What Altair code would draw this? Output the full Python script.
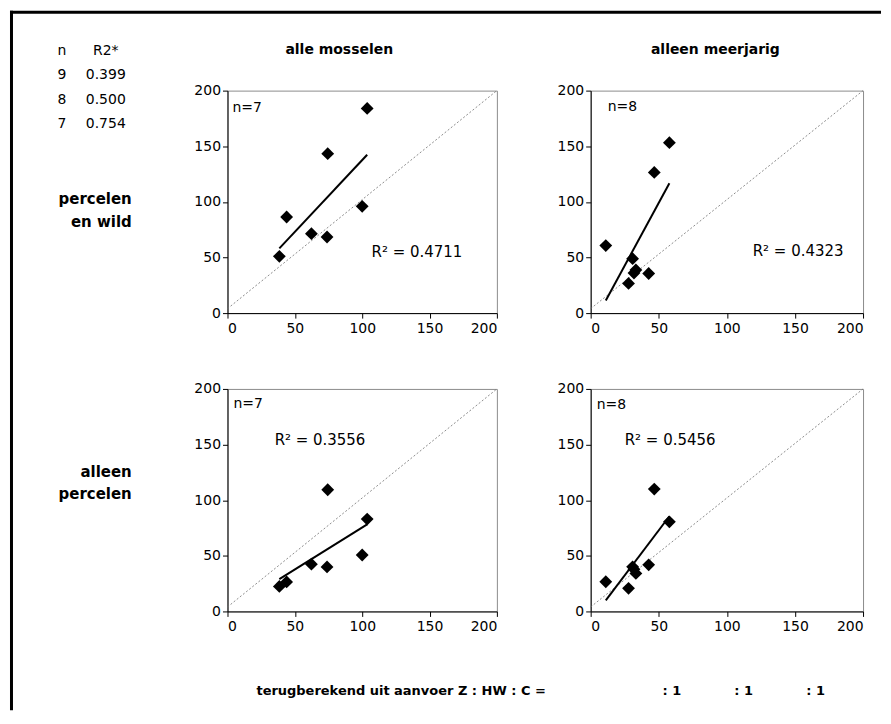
import altair as alt
import pandas as pd

# ---- data ----
x_all = [38.5, 43.9, 62.3, 73.9, 74.4, 100.0, 103.7]
y_all_pw = [51.0, 86.4, 71.4, 68.4, 143.3, 96.0, 184.0]
y_all_p = [22.5, 26.5, 42.5, 40.0, 109.4, 50.7, 83.0]
x_mj = [11.1, 27.8, 30.8, 31.8, 33.2, 42.6, 46.7, 57.8]
y_mj_pw = [60.7, 26.7, 48.9, 36.0, 38.8, 35.6, 126.5, 153.2]
y_mj_p = [26.7, 20.8, 40.1, 38.0, 34.2, 41.9, 110.0, 80.5]

r2_labels = ["R\u00b2 = 0.4711", "R\u00b2 = 0.4323", "R\u00b2 = 0.3556", "R\u00b2 = 0.5456"]
n_labels = ["n=7", "n=8", "n=7", "n=8"]
col_titles = ["alle mosselen", "alleen meerjarig"]
row_titles = [["percelen", "en wild"], ["alleen", "percelen"]]
table_n = ["n", "9", "8", "7"]
table_r2 = ["R2*", "0.399", "0.500", "0.754"]
ticks = [0, 50, 100, 150, 200]
diag_x = [0, 200]
diag_y = [4, 200]
footer = "terugberekend uit aanvoer Z : HW : C ="
ratio_labels = [": 1", ": 1", ": 1"]

FONT = "DejaVu Sans"


def deco_text(txt, px, py, size=14, bold=False, align="left"):
    return alt.Chart(pd.DataFrame({"t": [txt]})).mark_text(
        align=align, baseline="alphabetic", font=FONT, fontSize=size,
        fontWeight="bold" if bold else "normal", color="black"
    ).encode(x=alt.value(px), y=alt.value(py), text="t:N")


def panel(xs, ys, n_label, n_pos, r2_label, r2_pos, w, h, extras):
    df = pd.DataFrame({"x": xs, "y": ys})
    xsc = alt.Scale(domain=[0, 200], nice=False, zero=True)
    ysc = alt.Scale(domain=[0, 200], nice=False, zero=True)
    xax = alt.Axis(values=ticks, title=None, grid=False, labelPadding=3)
    yax = alt.Axis(values=ticks, title=None, grid=False, labelPadding=2)
    X = alt.X("x:Q", scale=xsc, axis=xax)
    Y = alt.Y("y:Q", scale=ysc, axis=yax)
    diag = alt.Chart(pd.DataFrame({"x": diag_x, "y": diag_y})).mark_line(
        color="#707070", strokeWidth=0.8, strokeDash=[2, 2]
    ).encode(x=X, y=Y)
    pts = alt.Chart(df).mark_point(
        shape="diamond", filled=True, size=165, color="black", opacity=1
    ).encode(x=X, y=Y)
    reg = alt.Chart(df).transform_regression("x", "y").mark_line(
        color="black", strokeWidth=2
    ).encode(x=X, y=Y)
    ntxt = alt.Chart(pd.DataFrame({"x": [n_pos[0]], "y": [n_pos[1]], "t": [n_label]})).mark_text(
        align="left", baseline="alphabetic", font=FONT, fontSize=14, color="black"
    ).encode(x=X, y=Y, text="t:N")
    rtxt = alt.Chart(pd.DataFrame({"x": [r2_pos[0]], "y": [r2_pos[1]], "t": [r2_label]})).mark_text(
        align="left", baseline="alphabetic", font=FONT, fontSize=15, color="black"
    ).encode(x=X, y=Y, text="t:N")
    return alt.layer(diag, pts, reg, ntxt, rtxt, *extras).properties(width=w, height=h)


# decorations for the top-left panel (pixel offsets relative to its plot area)
tl_extras = [
    alt.Chart(pd.DataFrame({"a": [0]})).mark_rule(color="black", strokeWidth=3).encode(
        x=alt.value(-216.5), y=alt.value(-80), y2=alt.value(621)),
    alt.Chart(pd.DataFrame({"a": [0]})).mark_rule(color="black", strokeWidth=3).encode(
        x=alt.value(-218), x2=alt.value(655), y=alt.value(-78.5)),
    deco_text(col_titles[0], 112, -37, size=14, bold=True, align="center"),
    deco_text(row_titles[0][0], -96, 114, size=15, bold=True, align="right"),
    deco_text(row_titles[0][1], -96, 137, size=15, bold=True, align="right"),
]
for i, (a, b) in enumerate(zip(table_n, table_r2)):
    tl_extras.append(deco_text(a, -166, -36 + i * 24.5, size=14, align="center"))
    tl_extras.append(deco_text(b, -122, -36 + i * 24.5, size=14, align="center"))

tr_extras = [deco_text(col_titles[1], 125, -37, size=14, bold=True, align="center")]

bl_extras = [
    deco_text(row_titles[1][0], -96, 88, size=15, bold=True, align="right"),
    deco_text(row_titles[1][1], -96, 110, size=15, bold=True, align="right"),
    deco_text(footer, 29, 307, size=13, bold=True, align="left"),
]
for i, lab in enumerate(ratio_labels):
    bl_extras.append(deco_text(lab, 436 + i * 72, 307, size=13, bold=True, align="left"))

tl = panel(x_all, y_all_pw, n_labels[0], (3.7, 181), r2_labels[0], (107, 50), 270, 223, tl_extras)
tr = panel(x_mj, y_mj_pw, n_labels[1], (12.5, 182), r2_labels[1], (119, 51), 273, 223, tr_extras)
bl = panel(x_all, y_all_p, n_labels[2], (4.4, 183), r2_labels[2], (35, 150), 270, 223, bl_extras)
br = panel(x_mj, y_mj_p, n_labels[3], (4.4, 182), r2_labels[3], (25, 150), 273, 223, [])

chart = alt.concat(
    tl, tr, bl, br, columns=2, spacing={"row": 76, "column": 94}, bounds="flush"
).properties(
    padding=0, background="white"
).configure_view(
    stroke="#8c8c8c", strokeWidth=1
).configure_axis(
    domainColor="black", domainWidth=1, tickColor="black", tickSize=5,
    labelColor="black", labelFont=FONT, labelFontSize=14, grid=False
)

chart.save("out.html", embed_options={"renderer": "svg", "actions": False})
